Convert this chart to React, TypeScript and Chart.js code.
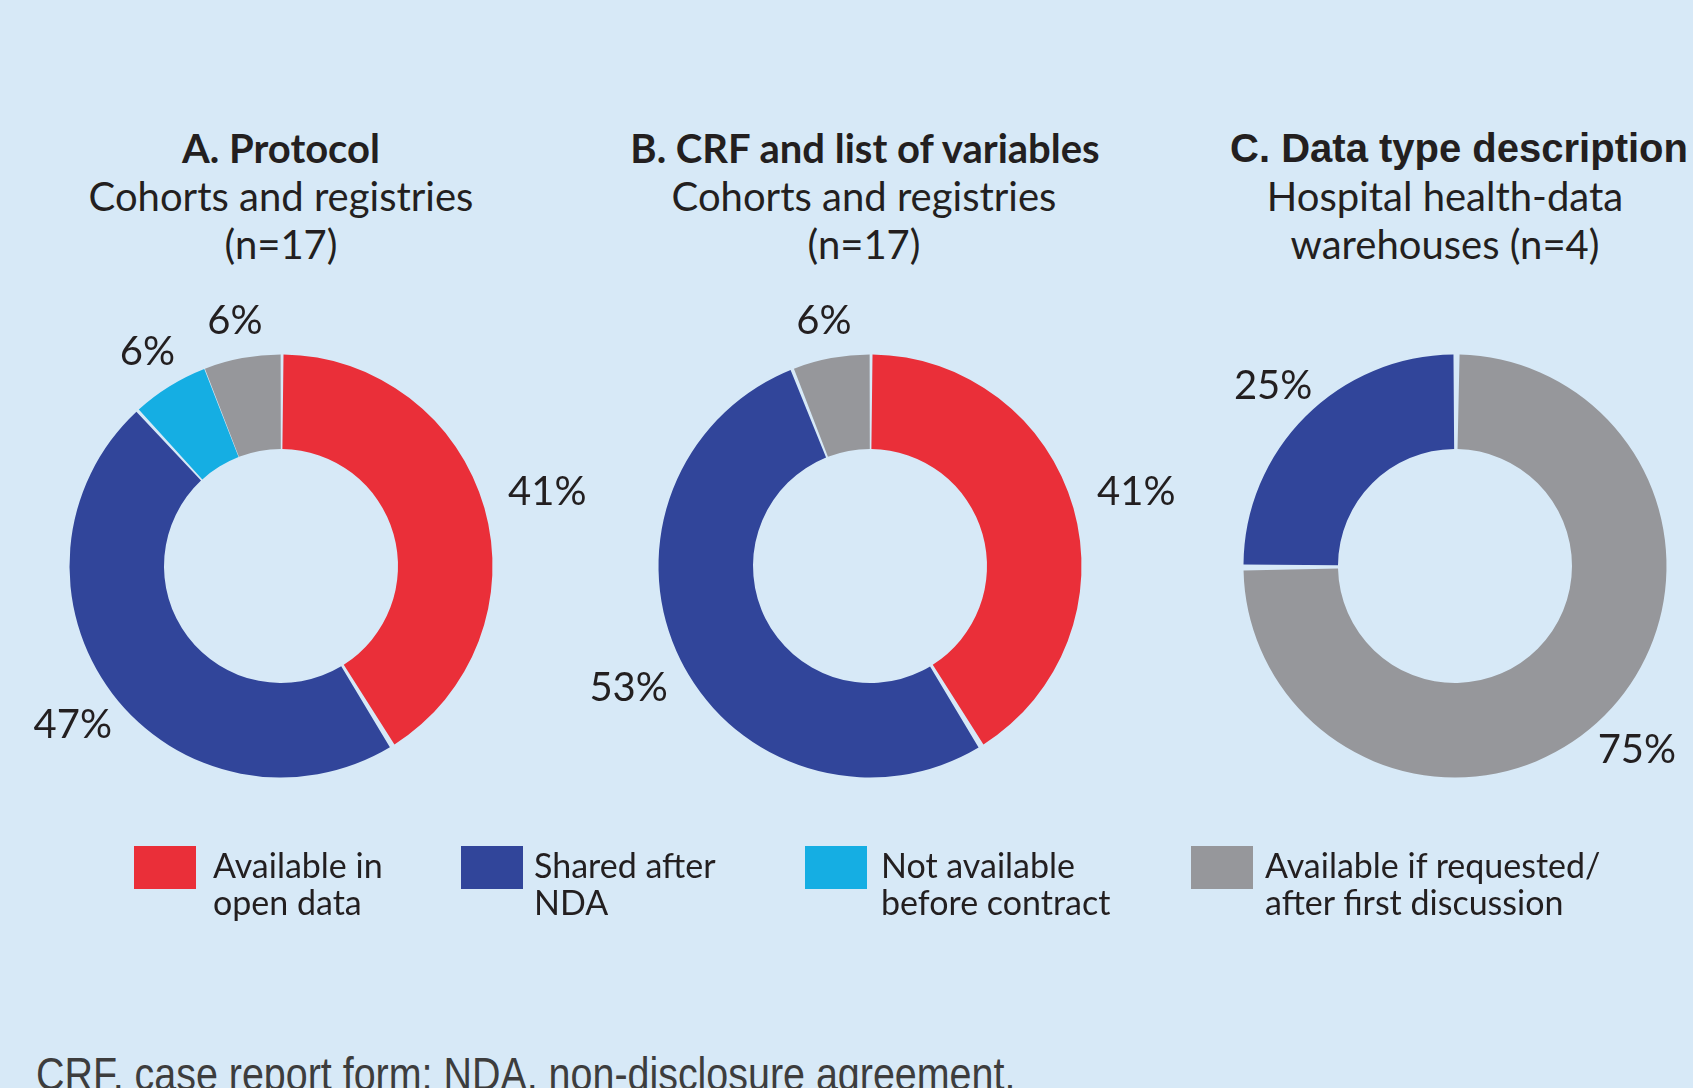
import React, { useEffect, useRef } from "react";
import { Chart, registerables } from "chart.js";

Chart.register(...registerables);

// ---------- Data ----------
const legendLabels = [
  ["Available in", "open data"],
  ["Shared after", "NDA"],
  ["Not available", "before contract"],
  ["Available if requested/", "after first discussion"],
];
const legendColors = ["#ea2f39", "#31459a", "#15aee3", "#96979b"];

// Chart A: Protocol, cohorts and registries (n=17)
const protocolCategories = ["Available in open data", "Shared after NDA", "Not available before contract", "Available if requested/after first discussion"];
const protocolCounts = [7, 8, 1, 1];
const protocolColors = ["#ea2f39", "#31459a", "#15aee3", "#96979b"];

// Chart B: CRF and list of variables, cohorts and registries (n=17)
const crfCategories = ["Available in open data", "Shared after NDA", "Available if requested/after first discussion"];
const crfCounts = [7, 9, 1];
const crfColors = ["#ea2f39", "#31459a", "#96979b"];

// Chart C: Data type description, hospital health-data warehouses (n=4)
const dataTypeCategories = ["Available if requested/after first discussion", "Shared after NDA"];
const dataTypeCounts = [3, 1];
const dataTypeColors = ["#96979b", "#31459a"];

const titlesA = ["A. Protocol", "Cohorts and registries", "(n=17)"];
const titlesB = ["B. CRF and list of variables", "Cohorts and registries", "(n=17)"];
const titlesC = ["C. Data type description", "Hospital health-data", "warehouses (n=4)"];
const footnote = "CRF, case report form; NDA, non-disclosure agreement.";

// ---------- Layout ----------
const BG = "#d7e9f7";
const TEXT = "#231f20";
const R = 210;
const SPACING = 3;
const CANVAS_W = 720;
const CANVAS_H = 600;
const CY = 566;

const pctLabels = {
  id: "pctLabels",
  afterDatasetsDraw(chart: any) {
    const meta = chart.getDatasetMeta(0);
    const data: number[] = chart.data.datasets[0].data;
    const total = data.reduce((a, b) => a + b, 0);
    const ctx = chart.ctx;
    ctx.save();
    ctx.font = "40px Lato";
    ctx.fillStyle = TEXT;
    ctx.textAlign = "center";
    ctx.textBaseline = "middle";
    meta.data.forEach((arc: any, i: number) => {
      const v = data[i];
      if (!v) return;
      const p = arc.getProps(["x", "y", "startAngle", "endAngle", "outerRadius"], true);
      const mid = (p.startAngle + p.endAngle) / 2;
      const text = Math.round((v / total) * 100) + "%";
      const hw = ctx.measureText(text).width / 2;
      const hh = 15;
      const dx = Math.cos(mid);
      const dy = Math.sin(mid);
      const edge = Math.min(Math.abs(dx) > 1e-6 ? hw / Math.abs(dx) : Infinity, Math.abs(dy) > 1e-6 ? hh / Math.abs(dy) : Infinity);
      const r = p.outerRadius + 26 + edge;
      ctx.fillText(text, p.x + dx * r, p.y + dy * r + 2);
    });
    ctx.restore();
  },
};

function Donut({ cx, labels, counts, colors }: { cx: number; labels: string[]; counts: number[]; colors: string[] }) {
  const ref = useRef<HTMLCanvasElement>(null);
  useEffect(() => {
    if (!ref.current) return;
    const half = R + SPACING / 2;
    const padX = CANVAS_W / 2 - half;
    const padY = CANVAS_H / 2 - half;
    const chart = new Chart(ref.current, {
      type: "doughnut",
      data: {
        labels,
        datasets: [
          {
            data: counts,
            backgroundColor: colors,
            borderWidth: 0,
            spacing: SPACING,
          },
        ],
      },
      options: {
        animation: false,
        responsive: false,
        maintainAspectRatio: false,
        devicePixelRatio: 1,
        cutout: "55%",
        layout: { padding: { left: padX, right: padX, top: padY, bottom: padY } },
        plugins: {
          legend: { display: false },
          tooltip: { enabled: false },
          title: { display: false },
        },
        events: [],
      },
      plugins: [pctLabels],
    } as any);
    return () => chart.destroy();
  }, []);
  return (
    <canvas
      ref={ref}
      width={CANVAS_W}
      height={CANVAS_H}
      style={{ position: "absolute", left: cx - CANVAS_W / 2, top: CY - CANVAS_H / 2, width: CANVAS_W, height: CANVAS_H }}
    />
  );
}

function TitleLine({ text, cx, top, bold, family }: { text: string; cx: number; top: number; bold?: boolean; family?: string }) {
  return (
    <div
      style={{
        position: "absolute",
        left: cx - 400,
        width: 800,
        top,
        textAlign: "center",
        fontFamily: family || "Lato",
        fontWeight: bold ? 700 : 400,
        fontSize: 40,
        lineHeight: "48px",
        color: TEXT,
        whiteSpace: "nowrap",
      }}
    >
      {text}
    </div>
  );
}

export default function App() {
  const legendBoxLeft = [134, 461, 805, 1191];
  const legendTextLeft = [213, 534, 881, 1265];
  return (
    <div
      style={{
        position: "fixed",
        left: 0,
        top: 0,
        width: 1693,
        height: 1088,
        background: BG,
        overflow: "hidden",
        fontFamily: "Lato",
      }}
    >
      <TitleLine text={titlesA[0]} cx={281} top={124} bold />
      <TitleLine text={titlesA[1]} cx={281} top={172} />
      <TitleLine text={titlesA[2]} cx={281} top={220} />
      <TitleLine text={titlesB[0]} cx={865} top={124} bold />
      <TitleLine text={titlesB[1]} cx={864} top={172} />
      <TitleLine text={titlesB[2]} cx={864} top={220} />
      <TitleLine text={titlesC[0]} cx={1459} top={124} bold family="'Liberation Sans', Arial, sans-serif" />
      <TitleLine text={titlesC[1]} cx={1445} top={172} />
      <TitleLine text={titlesC[2]} cx={1445} top={220} />

      <Donut cx={281} labels={protocolCategories} counts={protocolCounts} colors={protocolColors} />
      <Donut cx={870} labels={crfCategories} counts={crfCounts} colors={crfColors} />
      <Donut cx={1455} labels={dataTypeCategories} counts={dataTypeCounts} colors={dataTypeColors} />

      {legendLabels.map((lines, i) => (
        <React.Fragment key={i}>
          <div
            style={{
              position: "absolute",
              left: legendBoxLeft[i],
              top: 846,
              width: 62,
              height: 43,
              background: legendColors[i],
            }}
          />
          <div
            style={{
              position: "absolute",
              left: legendTextLeft[i],
              top: 846,
              fontSize: 34,
              lineHeight: "37px",
              color: TEXT,
              whiteSpace: "nowrap",
            }}
          >
            {lines[0]}
            <br />
            {lines[1]}
          </div>
        </React.Fragment>
      ))}

      <div
        style={{
          position: "absolute",
          left: 36,
          top: 1051,
          fontFamily: "'Liberation Sans', Arial, sans-serif",
          fontSize: 46,
          lineHeight: "46px",
          color: "#3d3d3d",
          whiteSpace: "nowrap",
          transform: "scaleX(0.857)",
          transformOrigin: "0 0",
        }}
      >
        {footnote}
      </div>
    </div>
  );
}
